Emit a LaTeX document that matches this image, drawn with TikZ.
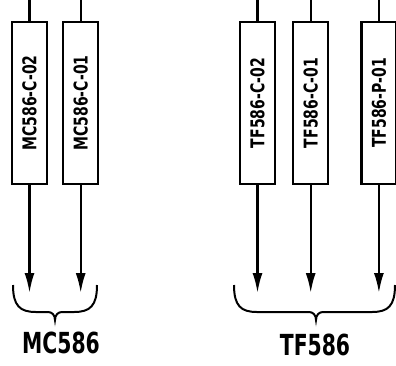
\documentclass[tikz,border=0pt]{standalone}
\usepackage{fontspec}
\newfontfamily\tagfont{DejaVu Sans Condensed}
\usetikzlibrary{arrows.meta,positioning}

\begin{document}
\begin{tikzpicture}[x=1pt,y=-1pt,
    tag/.style={draw,line width=2.2pt,minimum width=35pt,minimum height=162pt,inner sep=0pt,
      font=\tagfont\bfseries\fontsize{19}{19}\selectfont},
    wire/.style={line width=2.2pt},
    feed/.style={-{Latex[length=20pt,width=10pt]},line width=2.2pt},
    brace/.style={line width=2pt},
    group/.style={font=\tagfont\bfseries\fontsize{29}{29}\selectfont,inner sep=0pt}
  ]
    \useasboundingbox (0,0) rectangle (396,365);
    \coordinate (top) at (0,0);
    \coordinate (tips) at (0,293);
    % cartridges of the two groups
    \node[tag] (mc2) at (29.5,103) {\rotatebox{90}{\scalebox{0.82}[1]{MC586-C-02}}};
    \node[tag,right=14pt of mc2] (mc1) {\rotatebox{90}{\scalebox{0.82}[1]{MC586-C-01}}};
    \node[tag] (tf2) at (257.5,103) {\rotatebox{90}{\scalebox{0.82}[1]{TF586-C-02}}};
    \node[tag,right=16pt of tf2] (tf1) {\rotatebox{90}{\scalebox{0.82}[1]{TF586-C-01}}};
    \node[tag,right=31pt of tf1] (tfp) {\rotatebox{90}{\scalebox{0.82}[1]{TF586-P-01}}};
    \foreach \n in {mc2,mc1,tf2,tf1,tfp} {
      \draw[wire] (\n.north) -- (\n.north |- top);
      \coordinate (\n-end) at (\n.south |- tips);
      \draw[feed] (\n.south) -- (\n-end);
    }
    % braces
    \draw[brace] (13,285) .. controls (13,306) and (20,312) .. (36,312) -- (48,312)
      .. controls (52,312) and (55,315) .. (55,320) .. controls (55,315) and (58,312) .. (62,312)
      -- (74,312) .. controls (90,312) and (97,306) .. (97,285);
    \draw[brace] (234,285) .. controls (234,306) and (241,312) .. (257,312) -- (309,312)
      .. controls (313,312) and (316,315) .. (316,320) .. controls (316,315) and (319,312) .. (323,312)
      -- (372,312) .. controls (388,312) and (395,306) .. (395,285);
    \node[group] (mclabel) at (61,343) {\scalebox{0.78}[1]{MC586}};
    \node[group] (tflabel) at (315,345) {\scalebox{0.78}[1]{TF586}};
  \end{tikzpicture}
\end{document}
